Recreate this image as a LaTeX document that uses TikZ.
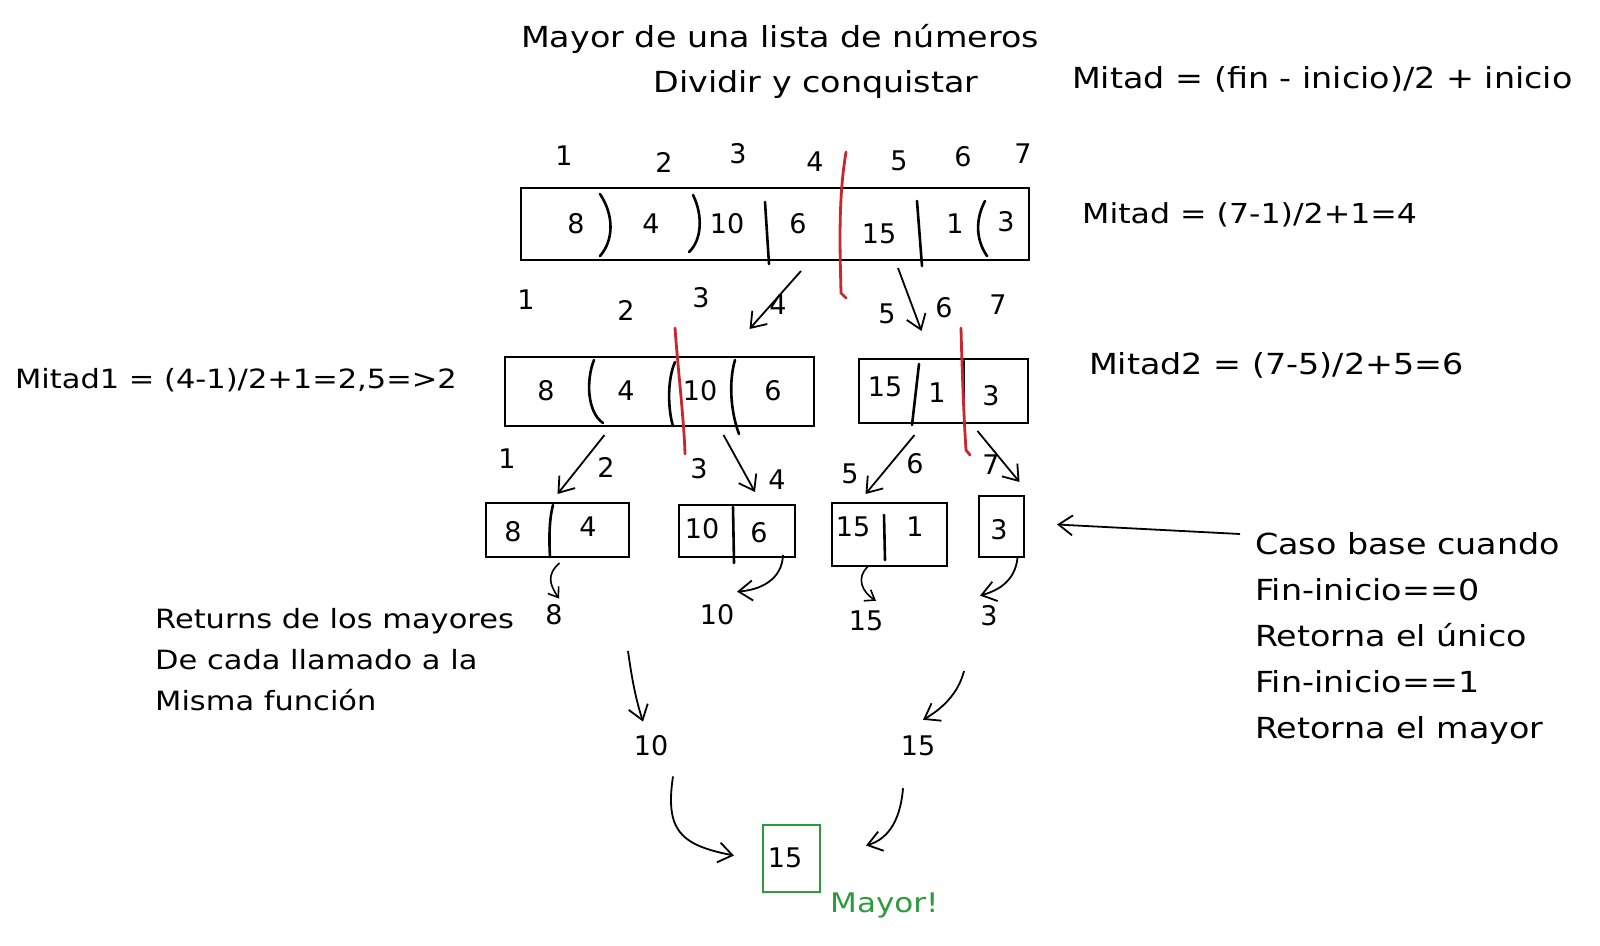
\documentclass[tikz,border=0pt]{standalone}
\usepackage{fontspec}
\setmainfont[FakeStretch=1.15]{DejaVu Sans}
\newfontfamily\cifras{DejaVu Sans}
\usetikzlibrary{arrows.meta,calc}
\definecolor{rojocorte}{HTML}{C8282D}
\definecolor{verdemayor}{HTML}{2E9A3E}
\tikzset{
  texto/.style={font=\fontsize{29}{41}\selectfont, inner sep=0pt},
  numero/.style={font=\cifras\fontsize{27}{32}\selectfont, inner sep=0pt},
  caja/.style={draw, line width=2pt, inner sep=0pt},
  division/.style={line width=2.6pt, line cap=round},
  corte/.style={draw=rojocorte, line width=2.8pt, line cap=round},
  flecha/.style={line width=1.8pt, -{Straight Barb[length=14pt,width=20pt]}},
  flechita/.style={line width=1.6pt, -{Straight Barb[length=9pt,width=13pt]}},
}
\begin{document}
\begin{tikzpicture}[x=1pt,y=-1pt]
    \useasboundingbox (0,0) rectangle (1600,945);
    \fill[white] (0,0) rectangle (1600,945);

    % Titles
    \node[texto] (titulo) at (780,39) {Mayor de una lista de números};
    \node[texto] (subtitulo) at (816,84) {Dividir y conquistar};
    \node[texto, anchor=west] (formula) at (1072,79) {Mitad = (fin - inicio)/2 + inicio};

    % Whole list
    \node[caja, minimum width=508pt, minimum height=72pt] (lista) at (775,224) {};
    \draw[division] (600,194) .. controls (614,215) and (614,240) .. (600,256);
    \draw[division] (693,195) .. controls (703,215) and (702,240) .. (689,252);
    \draw[division] (765,202) -- (769,264);
    \draw[division] (917,201) -- (922,266);
    \draw[division] (985,201) .. controls (975,220) and (976,240) .. (987,256);
    \node[numero] (a1) at (576,224) {8};
    \node[numero] (a2) at (651,224) {4};
    \node[numero] (a3) at (727,224) {10};
    \node[numero] (a4) at (798,224) {6};
    \node[numero] (a5) at (879,234) {15};
    \node[numero] (a6) at (955,224) {1};
    \node[numero] (a7) at (1006,222) {3};
    \node[numero] (ia1) at (564,156) {1};
    \node[numero] (ia2) at (664,162) {2};
    \node[numero] (ia3) at (738,154) {3};
    \node[numero] (ia4) at (815,162) {4};
    \node[numero] (ia5) at (899,161) {5};
    \node[numero] (ia6) at (963,157) {6};
    \node[numero] (ia7) at (1023,154) {7};
    \draw[corte] (846,152) .. controls (838,200) and (840,250) .. (841,293) -- (846,298);
    \node[texto, font=\fontsize{27.5}{41}\selectfont, anchor=west] (mitad) at (1082,215) {Mitad = (7-1)/2+1=4};

    % First split
    \node[caja, minimum width=309pt, minimum height=69pt] (izq) at (659.5,391.5) {};
    \node[caja, minimum width=169pt, minimum height=64pt] (der) at (943.5,391) {};
    \draw[division] (594,360) .. controls (586,380) and (587,412) .. (603,423);
    \draw[division] (675,362) .. controls (667,380) and (668,410) .. (673,426);
    \draw[division] (735,360) .. controls (729,380) and (730,410) .. (739,434);
    \draw[division] (919,364) -- (912,425);
    \draw[division] (964,361) -- (964,423);
    \node[numero] (b1) at (546,391) {8};
    \node[numero] (b2) at (626,391) {4};
    \node[numero] (b3) at (700,391) {10};
    \node[numero] (b4) at (773,391) {6};
    \node[numero] (c1) at (885,387) {15};
    \node[numero] (c2) at (937,393) {1};
    \node[numero] (c3) at (991,396) {3};
    \node[numero] (ib1) at (526,300) {1};
    \node[numero] (ib2) at (626,310) {2};
    \node[numero] (ib3) at (701,298) {3};
    \node[numero] (ib4) at (778,305) {4};
    \node[numero] (ic1) at (887,314) {5};
    \node[numero] (ic2) at (944,308) {6};
    \node[numero] (ic3) at (998,305) {7};
    \draw[corte] (675,328) .. controls (678,370) and (684,420) .. (685,454);
    \draw[corte] (961,328) .. controls (962,370) and (964,420) .. (966,450) -- (970,455);
    \draw[flecha] ($(lista.south)+(26,10)$) -- ($(izq.north)+(90,-27)$);
    \draw[flecha] ($(lista.south)+(123,7)$) -- ($(der.north)+(-22,-27)$);
    \node[texto, font=\fontsize{26.5}{41}\selectfont] (mitad1) at (236,380) {Mitad1 = (4-1)/2+1=2,5=>2};
    \node[texto, anchor=west] (mitad2) at (1089,365) {Mitad2 = (7-5)/2+5=6};

    % Base cases
    \node[caja, minimum width=143pt, minimum height=54pt] (d1) at (557.5,530) {};
    \node[caja, minimum width=116pt, minimum height=52pt] (d2) at (737,531) {};
    \node[caja, minimum width=115pt, minimum height=63pt] (d3) at (889.5,534.5) {};
    \node[caja, minimum width=45pt, minimum height=61pt] (d4) at (1001.5,526.5) {};
    \draw[division] (553,505) .. controls (549,520) and (549,540) .. (550,557);
    \draw[division] (733,507) -- (734,563);
    \draw[division] (884,515) -- (885,560);
    \node[numero] (e1) at (513,532) {8};
    \node[numero] (e2) at (588,527) {4};
    \node[numero] (e3) at (702,529) {10};
    \node[numero] (e4) at (759,533) {6};
    \node[numero] (e5) at (853,527) {15};
    \node[numero] (e6) at (915,527) {1};
    \node[numero] (e7) at (999,530) {3};
    \node[numero] (ie1) at (507,459) {1};
    \node[numero] (ie2) at (606,467) {2};
    \node[numero] (ie3) at (699,469) {3};
    \node[numero] (ie4) at (777,480) {4};
    \node[numero] (ie5) at (850,474) {5};
    \node[numero] (ie6) at (915,464) {6};
    \node[numero] (ie7) at (991,465) {7};
    \draw[flecha] ($(izq.south)+(-55,8)$) -- ($(d1.north)+(0,-8)$);
    \draw[flecha] ($(izq.south)+(64,8)$) -- ($(d2.north)+(18,-12)$);
    \draw[flecha] ($(der.south)+(-29,11)$) -- ($(d3.north)+(-24,-8)$);
    \draw[flecha] ($(der.south)+(34,7)$) -- ($(d4.north)+(18,-13)$);

    % Caso base note
    \node[texto, font=\fontsize{29}{46}\selectfont, anchor=north west, align=left] (caso) at (1255,532)
        {Caso base cuando\\Fin-inicio==0\\Retorna el único\\Fin-inicio==1\\Retorna el mayor};
    \draw[flecha] ($(caso.north west)+(-15,2)$) -- ($(d4.east)+(32,-2)$);

    % Returns
    \node[numero] (r1) at (554,615) {8};
    \node[numero] (r2) at (717,615) {10};
    \node[numero] (r3) at (866,621) {15};
    \node[numero] (r4) at (989,616) {3};
    \draw[flechita] ($(d1.south)+(2,5)$) .. controls (546,575) and (550,585) .. ($(r1.north)+(5,-6)$);
    \draw[flecha] ($(d2.south)+(46,-3)$) .. controls (782,580) and (760,590) .. ($(r2.north)+(20,-13)$);
    \draw[flechita] ($(d3.south)+(-22,0)$) .. controls (856,578) and (862,592) .. ($(r3.north)+(10,-10)$);
    \draw[flecha] ($(d4.south)+(16,0)$) .. controls (1015,580) and (1000,590) .. ($(r4.north)+(-9,-10)$);
    \node[texto, font=\fontsize{26.5}{41}\selectfont, anchor=north west, align=left] (nota) at (155,608)
        {Returns de los mayores\\De cada llamado a la\\Misma función};

    % Merge
    \node[numero] (m1) at (651,746) {10};
    \node[numero] (m2) at (918,746) {15};
    \coordinate (s1) at (628,651);
    \coordinate (s2) at (964,671);
    \draw[flecha] (s1) .. controls (632,680) and (636,700) .. ($(m1.north)+(-8,-14)$);
    \draw[flecha] (s2) .. controls (958,695) and (940,710) .. ($(m2.north)+(5,-16)$);

    % Result
    \node[draw=verdemayor, line width=2pt, minimum width=57pt, minimum height=67pt, inner sep=0pt] (mayor) at (791.5,858.5) {};
    \node[numero] (f1) at (785,858) {15};
    \node[texto, font=\fontsize{27}{32}\selectfont, text=verdemayor, anchor=west] (etiqueta) at (830,905) {Mayor!};
    \draw[flecha] ($(m1.south)+(22,20)$) .. controls (665,830) and (680,845) .. ($(mayor.west)+(-28,-3)$);
    \draw[flecha] ($(m2.south)+(-15,32)$) .. controls (900,825) and (885,840) .. ($(mayor.east)+(45,-13)$);

\end{tikzpicture}
\end{document}
